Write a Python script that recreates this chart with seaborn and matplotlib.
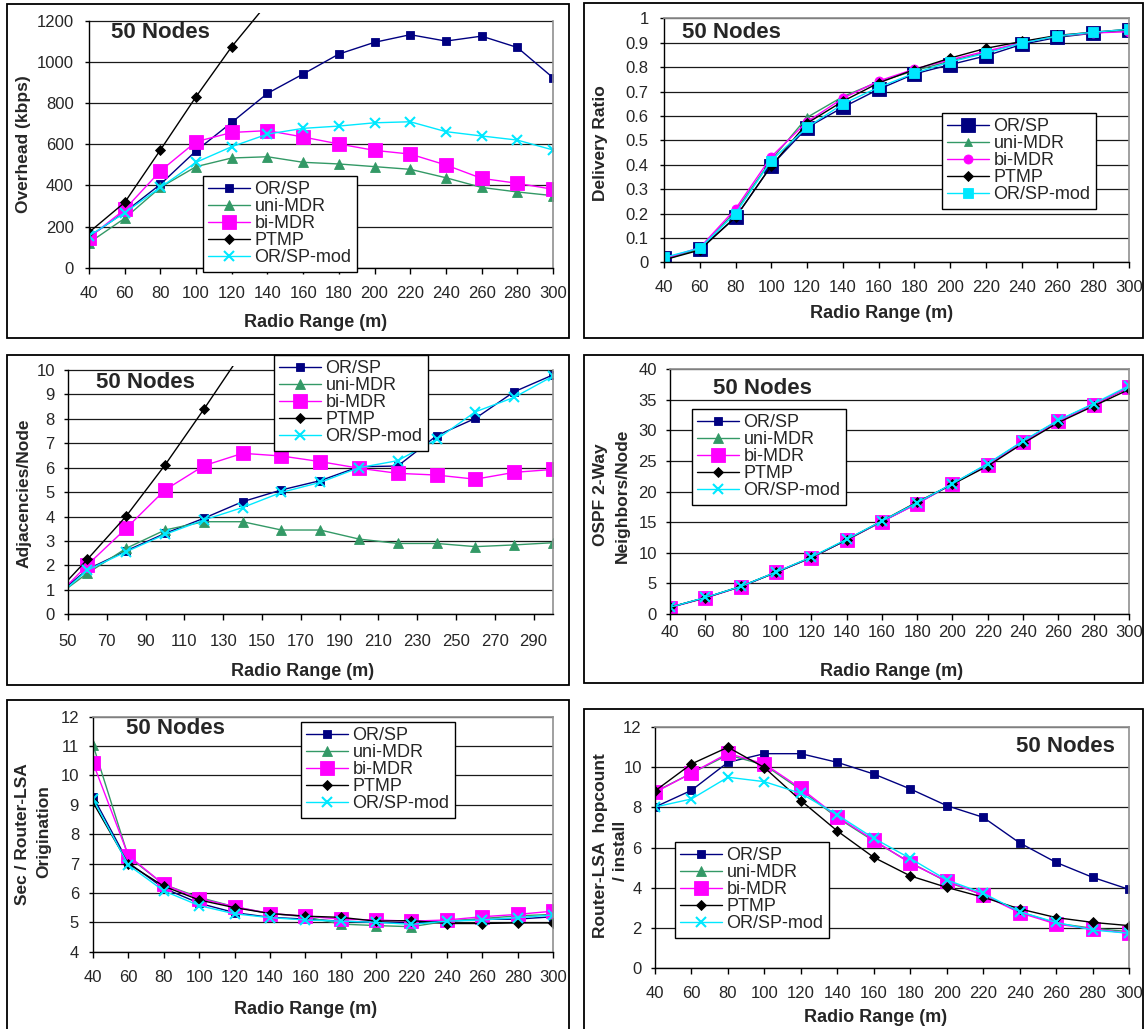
import matplotlib
matplotlib.use("Agg")
import matplotlib.pyplot as plt
import seaborn as sns
from matplotlib.patches import Rectangle
from matplotlib.ticker import FormatStrFormatter

# ---------------- data ----------------
radio_range = [40, 60, 80, 100, 120, 140, 160, 180, 200, 220, 240, 260, 280, 300]
series_names = ["OR/SP", "uni-MDR", "bi-MDR", "PTMP", "OR/SP-mod"]

# Panel 1: Overhead (kbps)
overhead_orsp = [150, 270, 405, 568, 706, 847, 941, 1038, 1095, 1132, 1101, 1125, 1070, 923]
overhead_uni = [121, 240, 390, 491, 533, 539, 512, 504, 491, 478, 437, 390, 368, 350]
overhead_bi = [146, 283, 470, 612, 657, 666, 635, 601, 570, 552, 499, 434, 410, 381]
overhead_ptmp = [172, 317, 572, 831, 1074, 1285]
overhead_mod = [154, 267, 390, 512, 588, 649, 677, 688, 704, 709, 661, 640, 620, 572]

# Panel 2: Delivery Ratio
delivery_orsp = [0.016, 0.055, 0.184, 0.396, 0.552, 0.635, 0.709, 0.772, 0.81, 0.846, 0.893, 0.922, 0.939, 0.952]
delivery_uni = [0.01, 0.055, 0.21, 0.42, 0.594, 0.679, 0.74, 0.785, 0.825, 0.86, 0.90, 0.925, 0.94, 0.95]
delivery_bi = [0.015, 0.06, 0.219, 0.433, 0.576, 0.672, 0.743, 0.792, 0.83, 0.865, 0.90, 0.928, 0.94, 0.945]
delivery_ptmp = [0.01, 0.05, 0.185, 0.395, 0.57, 0.66, 0.735, 0.79, 0.837, 0.877, 0.905, 0.93, 0.943, 0.955]
delivery_mod = [0.02, 0.058, 0.2, 0.417, 0.553, 0.649, 0.717, 0.775, 0.821, 0.857, 0.898, 0.928, 0.943, 0.955]

# Panel 3: Adjacencies/Node
adj_orsp = [0.5, 1.84, 2.6, 3.31, 3.93, 4.61, 5.09, 5.47, 6.04, 6.07, 7.31, 8.02, 9.11, 9.8]
adj_uni = [0.5, 1.68, 2.7, 3.45, 3.79, 3.79, 3.45, 3.45, 3.08, 2.9, 2.9, 2.77, 2.84, 2.93]
adj_bi = [0.4, 2.02, 3.52, 5.09, 6.08, 6.59, 6.48, 6.25, 5.98, 5.77, 5.7, 5.53, 5.81, 5.93]
adj_ptmp = [0.55, 2.25, 4.02, 6.11, 8.39, 10.75]
adj_mod = [0.4, 1.81, 2.56, 3.27, 3.86, 4.37, 4.99, 5.4, 6.0, 6.29, 7.16, 8.29, 8.88, 9.75]

# Panel 4: OSPF 2-Way Neighbors/Node
nbr_orsp = [1.1, 2.67, 4.47, 6.81, 9.2, 12.1, 15.1, 18.1, 21.25, 24.5, 28.2, 31.6, 34.3, 37.05]
nbr_uni = [1.1, 2.67, 4.47, 6.81, 9.2, 12.1, 15.1, 18.1, 21.25, 24.5, 28.2, 31.6, 34.3, 37.05]
nbr_bi = [1.05, 2.6, 4.45, 6.8, 9.2, 12.1, 15.1, 18.0, 21.3, 24.4, 28.1, 31.5, 34.2, 37.1]
nbr_ptmp = [1.1, 2.65, 4.5, 6.8, 9.25, 12.1, 15.2, 18.3, 21.2, 24.2, 27.9, 31.3, 34.0, 36.7]
nbr_mod = [1.1, 2.7, 4.5, 6.85, 9.3, 12.2, 15.2, 18.2, 21.3, 24.6, 28.3, 31.7, 34.4, 37.3]

# Panel 5: Sec / Router-LSA Origination
orig_orsp = [9.28, 7.03, 6.16, 5.65, 5.33, 5.17, 5.11, 5.04, 5.0, 4.98, 5.04, 5.1, 5.11, 5.19]
orig_uni = [11.04, 7.23, 6.29, 5.85, 5.53, 5.3, 5.19, 4.94, 4.89, 4.85, 5.04, 5.13, 5.22, 5.27]
orig_bi = [10.43, 7.27, 6.29, 5.81, 5.53, 5.3, 5.21, 5.11, 5.08, 5.04, 5.08, 5.19, 5.27, 5.38]
orig_ptmp = [9.08, 6.99, 6.23, 5.76, 5.5, 5.3, 5.21, 5.17, 5.04, 5.06, 4.96, 4.96, 4.98, 4.98]
orig_mod = [9.19, 6.95, 6.07, 5.57, 5.29, 5.16, 5.08, 5.04, 5.0, 4.93, 5.04, 5.08, 5.16, 5.25]

# Panel 6: Router-LSA hopcount / install
hop_orsp = [8.01, 8.84, 10.23, 10.66, 10.66, 10.23, 9.65, 8.91, 8.08, 7.5, 6.23, 5.26, 4.52, 3.92]
hop_uni = [8.77, 9.69, 10.6, 10.1, 8.86, 7.48, 6.32, 5.26, 4.3, 3.64, 2.81, 2.24, 1.99, 1.82]
hop_bi = [8.74, 9.69, 10.68, 10.15, 8.94, 7.53, 6.37, 5.22, 4.34, 3.64, 2.76, 2.2, 1.95, 1.74]
hop_ptmp = [8.81, 10.15, 10.98, 9.97, 8.33, 6.82, 5.51, 4.59, 4.02, 3.53, 2.95, 2.52, 2.28, 2.12]
hop_mod = [8.01, 8.41, 9.49, 9.27, 8.69, 7.62, 6.46, 5.46, 4.39, 3.73, 2.81, 2.28, 1.9, 1.74]

x_label = "Radio Range (m)"
panel_title = "50 Nodes"

# ---------------- style ----------------
sns.set_theme(style="white")
plt.rcParams['font.family'] = ['Liberation Sans', 'DejaVu Sans']

colors = {"OR/SP": "#000080", "uni-MDR": "#339966", "bi-MDR": "#FF00FF",
          "PTMP": "#000000", "OR/SP-mod": "#00E8FF"}
style_a = {"OR/SP": ("s", 5.5), "uni-MDR": ("^", 6.5), "bi-MDR": ("s", 10.5),
           "PTMP": ("D", 4.8), "OR/SP-mod": ("x", 7)}
style_b = {"OR/SP": ("s", 10), "uni-MDR": ("^", 6), "bi-MDR": ("o", 6.5),
           "PTMP": ("D", 4.8), "OR/SP-mod": ("s", 7)}

W, H = 1146, 1029
fig = plt.figure(figsize=(W / 100, H / 100), dpi=100)


def frame(x0, y0, x1, y1):
    fig.add_artist(Rectangle((x0 / W, 1 - y1 / H), (x1 - x0) / W, (y1 - y0) / H,
                             transform=fig.transFigure, fill=False,
                             edgecolor="black", lw=1.3))


def make_axes(x0, x1, xlim, ytop_px, ybot_px, ylo, yhi, ylim_top, ystep, xticks,
              xpad, ypad):
    ppu = (ybot_px - ytop_px) / (yhi - ylo)
    top = ybot_px - (ylim_top - ylo) * ppu
    ax = fig.add_axes([x0 / W, 1 - ybot_px / H, (x1 - x0) / W, (ybot_px - top) / H])
    return ax, dict(xlim=xlim, ylo=ylo, yhi=yhi, ylim_top=ylim_top, ystep=ystep,
                    xticks=xticks, xpad=xpad, ypad=ypad)


def finish(ax, cfg):
    ax.set_xlim(*cfg["xlim"])
    ax.set_ylim(cfg["ylo"], cfg["ylim_top"])
    n = int(round((cfg["yhi"] - cfg["ylo"]) / cfg["ystep"]))
    ax.set_yticks([cfg["ylo"] + i * cfg["ystep"] for i in range(n + 1)])
    ax.set_xticks(cfg["xticks"])
    ax.yaxis.set_major_formatter(FormatStrFormatter('%g'))
    ax.set_facecolor("white")
    ax.yaxis.grid(True, color="#1a1a1a", lw=0.9)
    ax.xaxis.grid(False)
    ax.set_axisbelow(True)
    for s in ["left", "bottom"]:
        ax.spines[s].set_color("black")
        ax.spines[s].set_linewidth(1.0)
    ax.spines["right"].set_color("#909090")
    ax.spines["right"].set_linewidth(1.2)
    ax.spines["top"].set_visible(cfg["ylim_top"] == cfg["yhi"])
    ax.spines["top"].set_color("#909090")
    ax.spines["left"].set_bounds(cfg["ylo"], cfg["yhi"])
    ax.spines["right"].set_bounds(cfg["ylo"], cfg["yhi"])
    ax.tick_params(axis="x", direction="out", length=4, width=1, color="black",
                   labelsize=12, pad=cfg["xpad"], bottom=True)
    ax.tick_params(axis="y", direction="out", length=3, width=1, color="black",
                   labelsize=12, pad=cfg["ypad"], left=True)
    ax.set_xlabel("")
    ax.set_ylabel("")


def draw(ax, values, style):
    for name, vals in zip(series_names, values):
        mk, ms = style[name]
        c = colors[name]
        sns.lineplot(x=radio_range[:len(vals)], y=vals, ax=ax, color=c, marker=mk,
                     markersize=ms, markeredgecolor=c,
                     markeredgewidth=1.5 if mk == "x" else 0.6,
                     linewidth=1.0, label=name, legend=False, errorbar=None)


def legend(ax, x, y):
    handles, labels = ax.get_legend_handles_labels()
    lg = ax.legend(handles, labels, loc="upper left",
                   bbox_to_anchor=(x / W, 1 - y / H), bbox_transform=fig.transFigure,
                   fontsize=13, frameon=True, fancybox=False, shadow=False,
                   framealpha=1, edgecolor="black", borderpad=0.3,
                   labelspacing=0.0, handlelength=2.3, handletextpad=0.25,
                   borderaxespad=0, numpoints=1)
    lg.get_frame().set_linewidth(1.0)


def text(x, y, s, **kw):
    fig.text(x / W, 1 - y / H, s, **kw)


def ylab(x, y, s):
    text(x, y, s, rotation=90, ha="center", va="center", fontsize=12.5, fontweight="bold")


ticks_40 = radio_range
ticks_50 = [50, 70, 90, 110, 130, 150, 170, 190, 210, 230, 250, 270, 290]
title_size = 16

# ---------------- frames ----------------
frame(7, 4, 569, 338)
frame(584, 3, 1143, 338)
frame(7, 355, 569, 685)
frame(584, 355, 1143, 683)
frame(7, 700, 569, 1045)
frame(584, 709, 1143, 1045)

# ---------------- panel 1 ----------------
ax1, c1 = make_axes(89, 553, (40, 300), 20.7, 267.7, 0, 1200, 1236, 200, ticks_40, 9, 8)
draw(ax1, [overhead_orsp, overhead_uni, overhead_bi, overhead_ptmp, overhead_mod], style_a)
finish(ax1, c1)
legend(ax1, 203, 176)
text(111, 33, panel_title, ha="left", va="center", fontsize=title_size, fontweight="bold")
ylab(24, 144, "Overhead (kbps)")
text(316, 323, x_label, ha="center", va="center", fontsize=13, fontweight="bold")

# ---------------- panel 2 ----------------
ax2, c2 = make_axes(664, 1129, (40, 300), 18.3, 262.3, 0, 1, 1, 0.1, ticks_40, 8.5, 8)
draw(ax2, [delivery_orsp, delivery_uni, delivery_bi, delivery_ptmp, delivery_mod], style_b)
finish(ax2, c2)
legend(ax2, 942, 113)
text(682, 32, panel_title, ha="left", va="center", fontsize=title_size, fontweight="bold")
ylab(601, 143, "Delivery Ratio")
text(882, 313, x_label, ha="center", va="center", fontsize=13, fontweight="bold")

# ---------------- panel 3 ----------------
ax3, c3 = make_axes(68, 553, (50, 300), 370, 614.3, 0, 10, 10.18, 1, ticks_50, 10.5, 6.5)
draw(ax3, [adj_orsp, adj_uni, adj_bi, adj_ptmp, adj_mod], style_a)
finish(ax3, c3)
legend(ax3, 274, 355)
text(96, 383, panel_title, ha="left", va="center", fontsize=title_size, fontweight="bold")
ylab(24, 493, "Adjacencies/Node")
text(303, 672, x_label, ha="center", va="center", fontsize=13, fontweight="bold")

# ---------------- panel 4 ----------------
ax4, c4 = make_axes(670, 1129, (40, 300), 369.3, 614, 0, 40, 40, 5, ticks_40, 4, 6.5)
draw(ax4, [nbr_orsp, nbr_uni, nbr_bi, nbr_ptmp, nbr_mod], style_a)
finish(ax4, c4)
legend(ax4, 692, 409)
text(713, 389, panel_title, ha="left", va="center", fontsize=title_size, fontweight="bold")
ylab(601, 495, "OSPF 2-Way")
ylab(622, 496, "Neighbors/Node")
text(892, 672, x_label, ha="center", va="center", fontsize=13, fontweight="bold")

# ---------------- panel 5 ----------------
ax5, c5 = make_axes(93, 553, (40, 300), 716.7, 951.7, 4, 12, 12, 1, ticks_40, 9, 7)
draw(ax5, [orig_orsp, orig_uni, orig_bi, orig_ptmp, orig_mod], style_a)
finish(ax5, c5)
legend(ax5, 301, 722)
text(126, 728, panel_title, ha="left", va="center", fontsize=title_size, fontweight="bold")
ylab(23, 834, "Sec / Router-LSA")
ylab(44, 832, "Origination")
text(306, 1010, x_label, ha="center", va="center", fontsize=13, fontweight="bold")

# ---------------- panel 6 ----------------
ax6, c6 = make_axes(655, 1129, (40, 300), 726.7, 968.3, 0, 12, 12, 2, ticks_40, 9, 6.5)
draw(ax6, [hop_orsp, hop_uni, hop_bi, hop_ptmp, hop_mod], style_a)
finish(ax6, c6)
legend(ax6, 675, 842)
text(1016, 747, panel_title, ha="left", va="center", fontsize=title_size, fontweight="bold")
ylab(600, 846, "Router-LSA  hopcount")
ylab(620, 851, "/ install")
text(876, 1017, x_label, ha="center", va="center", fontsize=13, fontweight="bold")

fig.savefig("out.png", dpi=100, facecolor="white")
